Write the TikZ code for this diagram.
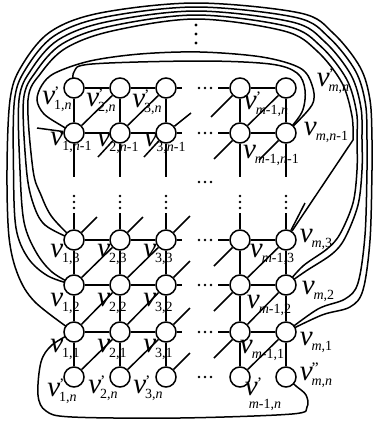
\documentclass[tikz,border=0pt]{standalone}
\usepackage{fontspec}
\setmainfont{Liberation Serif}
\pgfdeclarelayer{bg}
\pgfsetlayers{bg,main}
\newcommand{\vlab}[2]{{\fontsize{29}{29}\selectfont\itshape v}\kern-1pt\rlap{\raisebox{7pt}{\fontsize{16}{16}\selectfont #1}}\raisebox{-5pt}{\fontsize{14}{14}\selectfont #2}}
\newcommand{\vlabdown}[2]{{\fontsize{29}{29}\selectfont\itshape v}\kern-1pt\rlap{\raisebox{7pt}{\fontsize{16}{16}\selectfont #1}}\kern-8pt\raisebox{-13pt}{\fontsize{14}{14}\selectfont #2}}
\begin{document}
\begin{tikzpicture}[x=1pt,y=-1pt,
  ln/.style={line width=1.5pt},
  vtx/.style={circle,draw,fill=white,minimum size=20pt,inner sep=0pt,line width=1.5pt},
  lab/.style={inner sep=0pt,anchor=center},
  curvy/.style={line width=1.5pt,smooth,tension=0.55}]
\useasboundingbox (0,0) rectangle (374,423);
\foreach \c/\x in {1/74,2/120,3/166,4/240,5/286}
  \foreach \r/\y in {t/88,n/133,p/240,q/285,s/332,b/377}
    \node[vtx] (\r\c) at (\x,\y) {};
\begin{pgfonlayer}{bg}
\begin{scope}[ln]
\foreach \r/\y in {t/88,n/133,p/240,q/285,s/332}{
  \draw[ln] (\r1)--(\r2)--(\r3)--(182,\y);
  \draw[ln] (218,\y)--(\r4)--(\r5);
}
\foreach \c/\x in {1/74,2/120,3/166,4/240,5/286}{
  \draw[ln] (t\c)--(n\c)--(\x,177);
  \draw[ln] (\x,213)--(p\c)--(q\c)--(s\c)--(b\c);
}
\draw[ln] (t2)--(n1) (t3)--(n2) (t5)--(n4);
\draw[ln] (p2)--(q1) (p3)--(q2) (p5)--(q4);
\draw[ln] (q2)--(s1) (q3)--(s2) (q5)--(s4);
\draw[ln] (s2)--(b1) (s3)--(b2) (s5)--(b4);
\draw[ln] (t4)--(211,117);
\draw[ln] (n2)--(98,157) (n3)--(144,157) (n4)--(214,159) (n5)--(259,160);
\draw[ln] (p4)--(214,266) (q4)--(214,311) (s4)--(214,358);
\draw[ln] (n3)--(191,113);
\draw[ln] (p1)--(97,217) (p2)--(143,217) (p3)--(190,216) (p5)--(305,203);
\draw[ln] (q3)--(190,261) (s3)--(190,308) (b3)--(190,353);
\draw[ln] (37,128)--(n1);
% dots
\foreach \y in {88,133,182,240,285,332,377}
  \foreach \x in {199,205,211} \fill (\x,\y) circle (1.4pt);
\foreach \x in {74,120,166,240,286}
  \foreach \y in {196,202,208} \fill (\x,\y) circle (1.3pt);
\foreach \y in {25,34,43} \fill (196,\y) circle (1.6pt);
% inner curves
\draw[ln] plot[curvy] coordinates {(t1) (74,72) (92,64) (200,61) (270,64) (297,73) (305,90) (302,112) (n5)};
\draw[ln] plot[curvy] coordinates {(n1) (62,126) (44,114) (37,100) (42,85) (55,73) (90,61) (140,54) (200,52) (262,57) (300,68) (312,85) (312,105) (n5)};
% outer loops
\draw[ln] plot[curvy] coordinates {(s1) (35,302) (18,275) (9,237) (7,170) (10,100) (21,67) (50,32) (100,13) (196,3) (300,13) (333,33) (360,67) (370,100) (372,140) (372,170) (370,240) (363,290) (350,307) (322,315) (s5)};
\draw[ln] plot[curvy] coordinates {(q1) (48,276) (28,258) (16,228) (13.5,170) (14.5,100) (26,68.5) (54,36) (103,17.5) (196,7) (296,17.5) (329,37.5) (355.5,71) (365.5,104) (367,140) (367,170) (365,235) (358,283) (345,299) (318,309) (s5)};
\draw[ln] plot[curvy] coordinates {(q1) (52,272) (36,252) (24,222) (20,170) (19,100) (31,70) (58,40) (106,22) (196,11) (292,22) (325,42) (351,75) (361,108) (362,140) (362,170) (358,205) (345,238) (332,254) (306,271) (q5)};
\draw[ln] plot[curvy] coordinates {(p1) (45,225) (33,203) (26.5,170) (23.5,100) (36,71.5) (62,44) (109,26.5) (196,15) (288,26.5) (321,46.5) (346.5,79) (356.5,112) (357,140) (357,170) (353,203) (340,234) (327,249) (303,266) (q5)};
\draw[ln] plot[curvy] coordinates {(p1) (52,217) (41,195) (33,170) (28,100) (41,73) (66,48) (112,31) (196,19) (284,31) (317,51) (342,83) (352,116) (353,140)} -- (p5);
% bottom loop
\draw[ln] plot[curvy] coordinates {(s1) (52,345) (41,362) (38,395) (46,411) (72,417) (180,418) (292,414) (307,407) (306,395) (296,386) (b5)};
\end{scope}
\end{pgfonlayer}
% labels
\node[lab] (lt1) at (57,99) {\vlab{'}{1,\textit{n}}};
\node[lab] (lt2) at (101,101) {\vlab{'}{2,\textit{n}}};
\node[lab] (lt3) at (147,102) {\vlab{'}{3,\textit{n}}};
\node[lab] (lt4) at (266,104) {\vlab{'}{\textit{m}-1,\textit{n}}};
\node[lab] (lt5) at (333,81) {\vlab{'}{\textit{m},\textit{n}}};
\node[lab] (ln1) at (71,142) {\vlab{}{1,\textit{n}-1}};
\node[lab] (ln2) at (118,143) {\vlab{}{2,\textit{n}-1}};
\node[lab] (ln3) at (165,143) {\vlab{}{3,\textit{n}-1}};
\node[lab] (ln4) at (271,155) {\vlab{}{\textit{m}-1,\textit{n}-1}};
\node[lab] (ln5) at (326,132) {\vlab{}{\textit{m},\textit{n}-1}};
\node[lab] (lp1) at (65,254) {\vlab{}{1,3}};
\node[lab] (lp2) at (112,254) {\vlab{}{2,3}};
\node[lab] (lp3) at (158,254) {\vlab{}{3,3}};
\node[lab] (lp4) at (272,254) {\vlab{}{\textit{m}-1,3}};
\node[lab] (lp5) at (316,239) {\vlab{}{\textit{m},3}};
\node[lab] (lq1) at (65,303) {\vlab{}{1,2}};
\node[lab] (lq2) at (112,303) {\vlab{}{2,2}};
\node[lab] (lq3) at (158,303) {\vlab{}{3,2}};
\node[lab] (lq4) at (269,305) {\vlab{}{\textit{m}-1,2}};
\node[lab] (lq5) at (318,291) {\vlab{}{\textit{m},2}};
\node[lab] (ls1) at (65,349) {\vlab{}{1,1}};
\node[lab] (ls2) at (112,349) {\vlab{}{2,1}};
\node[lab] (ls3) at (158,349) {\vlab{}{3,1}};
\node[lab] (ls4) at (262,350) {\vlab{}{\textit{m}-1,1}};
\node[lab] (ls5) at (316,342) {\vlab{}{\textit{m},1}};
\node[lab] (lb1) at (62,391) {\vlab{'}{1,\textit{n}}};
\node[lab] (lb2) at (103,388) {\vlab{'}{2,\textit{n}}};
\node[lab] (lb3) at (148,388) {\vlab{'}{3,\textit{n}}};
\node[lab] (lb4) at (263,394) {\vlabdown{'}{\textit{m}-1,\textit{n}}};
\node[lab] (lb5) at (316,375) {\vlab{''}{\textit{m},\textit{n}}};
\end{tikzpicture}
\end{document}
